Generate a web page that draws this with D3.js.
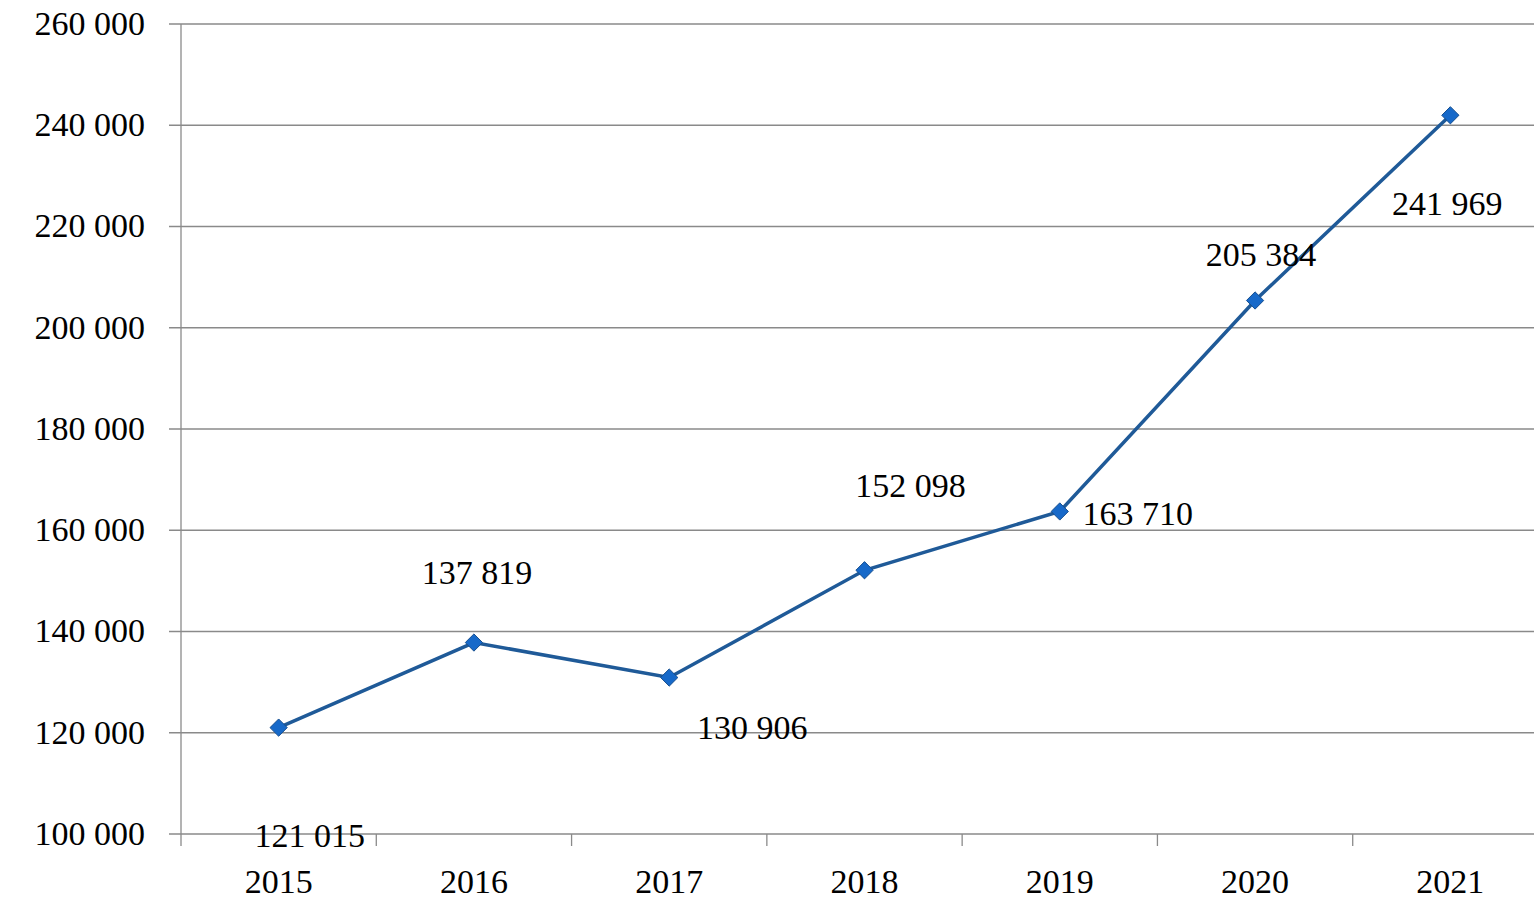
<!DOCTYPE html>
<html>
<head>
    <meta charset="utf-8">
    <title>Line</title>
    <script src="https://cdn.jsdelivr.net/npm/d3@7"></script>
    <style>
        body { margin: 0; background: #fff; }
        text { font-family: "Liberation Serif", "DejaVu Serif", serif; font-variant-numeric: oldstyle-nums; fill: #000; }
    </style>
</head>
<body>
    <svg width="1534" height="904" id="mainsvg"></svg>
    <script>
        const years = ['2015', '2016', '2017', '2018', '2019', '2020', '2021'];
        const values = [121015, 137819, 130906, 152098, 163710, 205384, 241969];
        const yTicks = [100000, 120000, 140000, 160000, 180000, 200000, 220000, 240000, 260000];

        const svg = d3.select('svg');
        const plotLeft = 181, plotRight = 1548, plotTop = 24, plotBottom = 834;
        const fmt = v => d3.format(',')(v).replace(/,/g, ' ');

        const x = d3.scaleBand().domain(years).range([plotLeft, plotRight]);
        const y = d3.scaleLinear().domain([100000, 260000]).range([plotBottom, plotTop]);

        // horizontal grid lines with outward ticks
        svg.selectAll('.grid').data(yTicks).join('line').attr('class', 'grid')
            .attr('x1', plotLeft - 12).attr('x2', plotRight)
            .attr('y1', d => y(d)).attr('y2', d => y(d))
            .attr('stroke', '#8a8a8a').attr('stroke-width', 1.3);

        // y axis line
        svg.append('line').attr('x1', plotLeft).attr('x2', plotLeft).attr('y1', plotTop).attr('y2', plotBottom + 12)
            .attr('stroke', '#8a8a8a').attr('stroke-width', 1.3);

        // category ticks
        svg.selectAll('.xtick').data(years).join('line').attr('class', 'xtick')
            .attr('x1', d => x(d) + x.step()).attr('x2', d => x(d) + x.step())
            .attr('y1', plotBottom).attr('y2', plotBottom + 12)
            .attr('stroke', '#8a8a8a').attr('stroke-width', 1.3);

        svg.selectAll('.ylab').data(yTicks).join('text').attr('class', 'ylab')
            .attr('x', 145).attr('y', d => y(d)).attr('dy', '0.32em')
            .attr('text-anchor', 'end').attr('font-size', 34)
            .text(fmt);

        svg.selectAll('.xlab').data(years).join('text').attr('class', 'xlab')
            .attr('x', d => x(d) + x.bandwidth() / 2).attr('y', 893)
            .attr('text-anchor', 'middle').attr('font-size', 34)
            .text(d => d);

        const cx = (d, i) => x(years[i]) + x.bandwidth() / 2;
        const line = d3.line().x((d, i) => cx(d, i)).y(d => y(d));

        svg.append('path').datum(values).attr('d', line)
            .attr('fill', 'none').attr('stroke', '#1f5a98').attr('stroke-width', 3.5);

        svg.selectAll('.pt').data(values).join('path').attr('class', 'pt')
            .attr('d', d3.symbol().type(d3.symbolDiamond2).size(190))
            .attr('transform', (d, i) => `translate(${cx(d, i)},${y(d)})`)
            .attr('fill', '#1769c9').attr('stroke', '#174f8f').attr('stroke-width', 1);

        // data label offsets (dx, dy) relative to point
        const labelOffset = [[31, 109], [3, -69], [83, 51], [46, -84], [78, 3], [6, -45], [-3, 89]];
        svg.selectAll('.dlab').data(values).join('text').attr('class', 'dlab')
            .attr('x', (d, i) => cx(d, i) + labelOffset[i][0])
            .attr('y', (d, i) => y(d) + labelOffset[i][1]).attr('dy', '0.32em')
            .attr('text-anchor', 'middle').attr('font-size', 34)
            .text(fmt);
    </script>
</body>
</html>
